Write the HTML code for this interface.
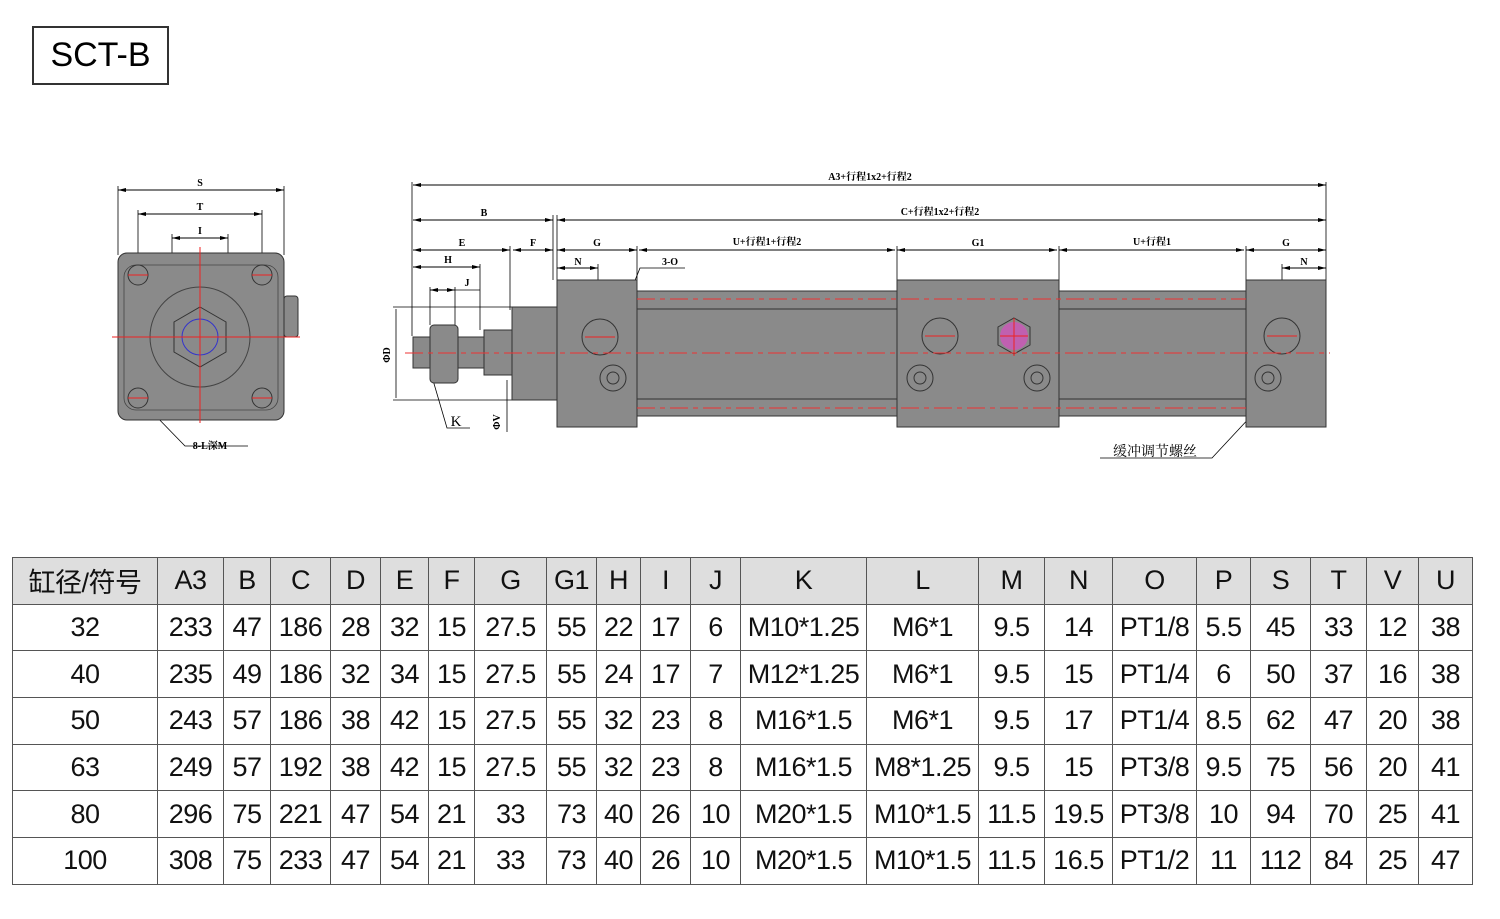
<!DOCTYPE html>
<html><head><meta charset="utf-8"><style>
body{margin:0;background:#fff;width:1500px;height:919px;position:relative;overflow:hidden;font-family:"Liberation Sans","Noto Sans CJK SC",sans-serif}
.title{position:absolute;left:32px;top:26px;width:133px;height:55px;border:2px solid #333;font-size:34px;line-height:55px;text-align:center}
table{position:absolute;left:12px;top:557px;border-collapse:collapse;table-layout:fixed}
td{border:1.5px solid #555;height:45.7px;text-align:center;font-family:"Liberation Sans Narrow","Liberation Sans","Noto Sans CJK SC",sans-serif;font-size:27px;padding:0;color:#111;white-space:nowrap;overflow:hidden;letter-spacing:-0.5px}
tr.h td{background:#dedede}
svg{position:absolute;left:0;top:0}
</style></head><body>
<div class="title">SCT-B</div>
<svg width="1500" height="520" viewBox="0 0 1500 520" font-family="Liberation Serif,Noto Serif CJK SC,serif" font-weight="bold" font-size="10">
<defs><marker id="a" markerWidth="8" markerHeight="6" refX="8" refY="3" orient="auto-start-reverse"><path d="M0,1 L8,3 L0,5z" fill="#000"/></marker></defs>
<g stroke="#000" stroke-width="1" fill="none" marker-start="url(#a)" marker-end="url(#a)">
<line x1="118" y1="190" x2="284" y2="190"/><line x1="138" y1="214" x2="262" y2="214"/><line x1="172" y1="238" x2="228" y2="238"/>
<line x1="413" y1="185" x2="1326" y2="185"/><line x1="413" y1="220" x2="553" y2="220"/><line x1="557" y1="220" x2="1326" y2="220"/>
<line x1="413" y1="250" x2="510" y2="250"/><line x1="513" y1="250" x2="553" y2="250"/><line x1="557" y1="250" x2="637" y2="250"/><line x1="639" y1="250" x2="895" y2="250"/><line x1="897" y1="250" x2="1057" y2="250"/><line x1="1059" y1="250" x2="1244" y2="250"/><line x1="1246" y1="250" x2="1326" y2="250"/>
<line x1="413" y1="267" x2="480" y2="267"/><line x1="557" y1="268" x2="598" y2="268"/><line x1="1282" y1="268" x2="1326" y2="268"/><line x1="430" y1="290" x2="455" y2="290"/>
</g>
<g stroke="#000" stroke-width="0.8">
<line x1="118" y1="186" x2="118" y2="255"/><line x1="284" y1="186" x2="284" y2="255"/><line x1="138" y1="210" x2="138" y2="275"/><line x1="262" y1="210" x2="262" y2="275"/><line x1="172" y1="234" x2="172" y2="320"/><line x1="228" y1="234" x2="228" y2="320"/>
<line x1="412" y1="182" x2="412" y2="336"/><line x1="1326" y1="182" x2="1326" y2="280"/><line x1="557" y1="215" x2="557" y2="280"/><line x1="637" y1="246" x2="637" y2="280"/><line x1="897" y1="246" x2="897" y2="280"/><line x1="1059" y1="246" x2="1059" y2="280"/><line x1="1246" y1="246" x2="1246" y2="280"/><line x1="510" y1="246" x2="510" y2="310"/><line x1="553" y1="215" x2="553" y2="280"/><line x1="480" y1="264" x2="480" y2="330"/><line x1="598" y1="264" x2="598" y2="337"/><line x1="1282" y1="264" x2="1282" y2="337"/>
<line x1="430" y1="287" x2="430" y2="325"/><line x1="455" y1="287" x2="455" y2="325"/><line x1="455" y1="290" x2="480" y2="290"/>
<line x1="393" y1="307" x2="512" y2="307"/><line x1="393" y1="400" x2="512" y2="400"/><line x1="396" y1="309" x2="396" y2="398"/><line x1="507" y1="380" x2="507" y2="432"/>
<path d="M150,410 L185,446 L248,446 M430,370 L447,428 L470,428 M1280,385 L1212,458 L1100,458 M616,328 L640,268 L685,268" fill="none"/>
</g>
<g font-size="10" text-anchor="middle">
<text x="200" y="186">S</text><text x="200" y="210">T</text><text x="200" y="234">I</text><text x="210" y="449">8-L深M</text>
<text x="870" y="180">A3+行程1x2+行程2</text><text x="484" y="216">B</text><text x="940" y="215">C+行程1x2+行程2</text>
<text x="462" y="246">E</text><text x="533" y="246">F</text><text x="597" y="246">G</text><text x="767" y="245">U+行程1+行程2</text><text x="978" y="246">G1</text><text x="1152" y="245">U+行程1</text><text x="1286" y="246">G</text>
<text x="448" y="263">H</text><text x="578" y="265">N</text><text x="1304" y="265">N</text><text x="467" y="286">J</text><text x="670" y="265">3-O</text>
<text x="456" y="426" font-size="15" font-weight="normal">K</text>
<text x="1155" y="456" font-size="14" font-weight="normal">缓冲调节螺丝</text>
<text x="390" y="355" transform="rotate(-90 390 355)">ΦD</text><text x="500" y="422" transform="rotate(-90 500 422)">ΦV</text><text x="660" y="345" transform="rotate(-90 660 345)">P</text>
</g>
<rect x="118" y="253" width="166" height="167" rx="9" fill="#8a8a8a" stroke="#333"/>
<rect x="284" y="296" width="14" height="41" rx="3" fill="#8a8a8a" stroke="#333"/>
<rect x="124" y="265" width="154" height="145" rx="12" fill="none" stroke="#444" stroke-width="0.8"/>
<circle cx="200" cy="337" r="50" fill="#8a8a8a" stroke="#444"/>
<polygon points="200,307 226,322 226,352 200,367 174,352 174,322" fill="#8a8a8a" stroke="#333"/>
<circle cx="200" cy="337" r="18" fill="#8a8a8a" stroke="#33c"/>
<g fill="#8a8a8a" stroke="#333"><circle cx="138" cy="275" r="10"/><circle cx="262" cy="275" r="10"/><circle cx="138" cy="398" r="10"/><circle cx="262" cy="398" r="10"/></g>
<g stroke="#e22" stroke-width="1"><line x1="200" y1="247" x2="200" y2="423"/><line x1="112" y1="337" x2="300" y2="337"/><line x1="128" y1="275" x2="148" y2="275"/><line x1="252" y1="275" x2="272" y2="275"/><line x1="128" y1="398" x2="148" y2="398"/><line x1="252" y1="398" x2="272" y2="398"/></g>
<rect x="413" y="337" width="72" height="31" fill="#8a8a8a" stroke="#333"/>
<rect x="430" y="325" width="28" height="58" rx="4" fill="#8a8a8a" stroke="#333"/>
<rect x="484" y="330" width="28" height="45" fill="#8a8a8a" stroke="#333"/>
<rect x="512" y="307" width="45" height="93" fill="#8a8a8a" stroke="#333"/>
<rect x="637" y="291" width="260" height="125" fill="#8a8a8a" stroke="#333"/>
<rect x="1059" y="291" width="187" height="125" fill="#8a8a8a" stroke="#333"/>
<g stroke="#333"><line x1="637" y1="309" x2="1246" y2="309"/><line x1="637" y1="399" x2="1246" y2="399"/></g>
<rect x="557" y="280" width="80" height="147" fill="#8a8a8a" stroke="#333"/>
<rect x="897" y="280" width="162" height="147" fill="#8a8a8a" stroke="#333"/>
<rect x="1246" y="280" width="80" height="147" fill="#8a8a8a" stroke="#333"/>
<g fill="#8a8a8a" stroke="#333"><circle cx="600" cy="337" r="18"/><circle cx="940" cy="336" r="18"/><circle cx="1282" cy="336" r="18"/>
<circle cx="613" cy="378" r="13"/><circle cx="920" cy="378" r="13"/><circle cx="1037" cy="378" r="13"/><circle cx="1268" cy="378" r="13"/>
<circle cx="613" cy="378" r="6"/><circle cx="920" cy="378" r="6"/><circle cx="1037" cy="378" r="6"/><circle cx="1268" cy="378" r="6"/>
<polygon points="1014,318 1030,327 1030,345 1014,354 998,345 998,327"/></g>
<circle cx="1014" cy="336" r="14" fill="#c060b0"/>
<g stroke="#e33" stroke-width="1" stroke-dasharray="18,5,5,5"><line x1="405" y1="353" x2="1330" y2="353"/><line x1="637" y1="299" x2="1246" y2="299"/><line x1="637" y1="408" x2="1246" y2="408"/></g>
<g stroke="#e22"><line x1="1000" y1="336" x2="1028" y2="336"/><line x1="1014" y1="318" x2="1014" y2="356"/><line x1="925" y1="336" x2="955" y2="336"/><line x1="1267" y1="336" x2="1297" y2="336"/><line x1="585" y1="337" x2="615" y2="337"/></g>
</svg>
<table>
<colgroup><col style="width:145px"><col style="width:66px"><col style="width:47px"><col style="width:60px"><col style="width:50px"><col style="width:48px"><col style="width:46px"><col style="width:72px"><col style="width:50px"><col style="width:44px"><col style="width:50px"><col style="width:50px"><col style="width:126px"><col style="width:112px"><col style="width:66px"><col style="width:68px"><col style="width:84px"><col style="width:54px"><col style="width:60px"><col style="width:56px"><col style="width:52px"><col style="width:54px"></colgroup>
<tr class="h"><td>缸径/符号</td><td>A3</td><td>B</td><td>C</td><td>D</td><td>E</td><td>F</td><td>G</td><td>G1</td><td>H</td><td>I</td><td>J</td><td>K</td><td>L</td><td>M</td><td>N</td><td>O</td><td>P</td><td>S</td><td>T</td><td>V</td><td>U</td></tr>
<tr><td>32</td><td>233</td><td>47</td><td>186</td><td>28</td><td>32</td><td>15</td><td>27.5</td><td>55</td><td>22</td><td>17</td><td>6</td><td>M10*1.25</td><td>M6*1</td><td>9.5</td><td>14</td><td>PT1/8</td><td>5.5</td><td>45</td><td>33</td><td>12</td><td>38</td></tr>
<tr><td>40</td><td>235</td><td>49</td><td>186</td><td>32</td><td>34</td><td>15</td><td>27.5</td><td>55</td><td>24</td><td>17</td><td>7</td><td>M12*1.25</td><td>M6*1</td><td>9.5</td><td>15</td><td>PT1/4</td><td>6</td><td>50</td><td>37</td><td>16</td><td>38</td></tr>
<tr><td>50</td><td>243</td><td>57</td><td>186</td><td>38</td><td>42</td><td>15</td><td>27.5</td><td>55</td><td>32</td><td>23</td><td>8</td><td>M16*1.5</td><td>M6*1</td><td>9.5</td><td>17</td><td>PT1/4</td><td>8.5</td><td>62</td><td>47</td><td>20</td><td>38</td></tr>
<tr><td>63</td><td>249</td><td>57</td><td>192</td><td>38</td><td>42</td><td>15</td><td>27.5</td><td>55</td><td>32</td><td>23</td><td>8</td><td>M16*1.5</td><td>M8*1.25</td><td>9.5</td><td>15</td><td>PT3/8</td><td>9.5</td><td>75</td><td>56</td><td>20</td><td>41</td></tr>
<tr><td>80</td><td>296</td><td>75</td><td>221</td><td>47</td><td>54</td><td>21</td><td>33</td><td>73</td><td>40</td><td>26</td><td>10</td><td>M20*1.5</td><td>M10*1.5</td><td>11.5</td><td>19.5</td><td>PT3/8</td><td>10</td><td>94</td><td>70</td><td>25</td><td>41</td></tr>
<tr><td>100</td><td>308</td><td>75</td><td>233</td><td>47</td><td>54</td><td>21</td><td>33</td><td>73</td><td>40</td><td>26</td><td>10</td><td>M20*1.5</td><td>M10*1.5</td><td>11.5</td><td>16.5</td><td>PT1/2</td><td>11</td><td>112</td><td>84</td><td>25</td><td>47</td></tr>
</table>
</body></html>
